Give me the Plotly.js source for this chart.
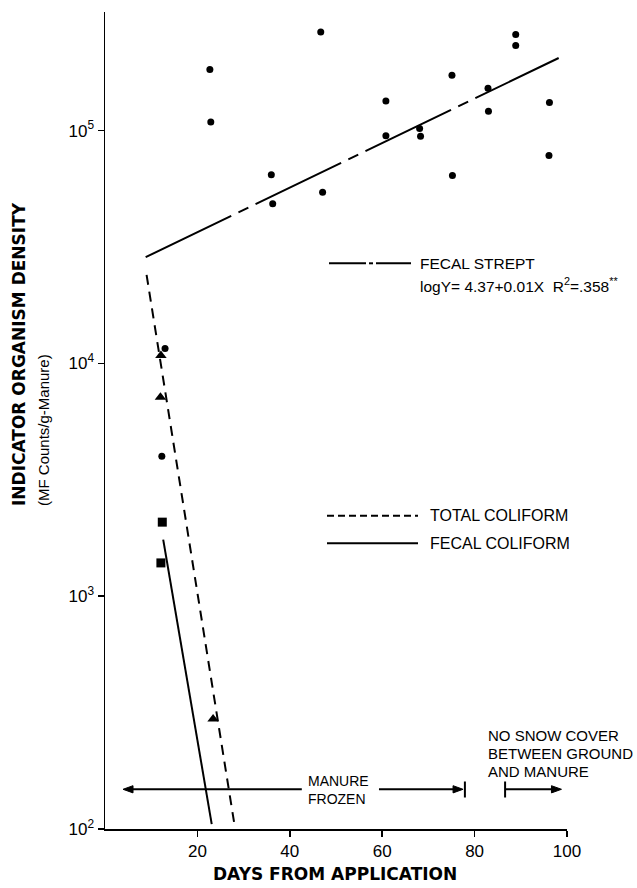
<!DOCTYPE html>
<html>
<head>
<meta charset="utf-8">
<script src="https://cdn.plot.ly/plotly-3.0.1.min.js"></script>
<style>html,body{margin:0;padding:0;background:#fff;}#chart{width:637px;height:888px;}</style>
</head>
<body>
<div id="chart"></div>
<script>
// ---- data ----
const fsDays    = [22.7, 22.9, 36.0, 36.3, 46.7, 47.1, 60.8, 60.8, 68.1, 68.3, 75.1, 75.2, 82.9, 83.0, 88.9, 88.9, 96.2, 96.1, 12.3, 13.0];
const fsDensity = [183000, 109000, 64600, 48500, 265000, 54300, 134000, 95000, 102000, 94600, 173000, 64100, 152000, 121000, 259000, 232000, 132000, 78200, 3990, 11600];
const tcDays    = [12.0, 12.1, 23.4];
const tcDensity = [7150, 10800, 297];
const fcDays    = [12.4, 12.1];
const fcDensity = [2080, 1390];
const fsFitDays = [8.8, 98.2];
const fsFitDensity = [28600, 205000];
const tcFitDays = [9.0, 28.0];
const tcFitDensity = [24000, 105];
const fcFitDays = [12.6, 23.1];
const fcFitDensity = [1750, 105];
const frozenDays = [3.9, 42.6, 59.3, 77.9];
const noSnowDays = [86.6, 98.8];
const xTickVals = [20, 40, 60, 80, 100];
const yTickVals = [100, 1000, 10000, 100000];
const yTickText = ['10<sup>2</sup>', '10<sup>3</sup>', '10<sup>4</sup>', '10<sup>5</sup>'];

// ---- layout geometry ----
const W = 637, H = 888, L = 105, R = 70, T = 12, B = 59;
const plotW = W - L - R, plotH = H - T - B;
const pxX = px => (px - L) / plotW;
const pxY = py => (H - B - py) / plotH;
const FONT = 'Liberation Sans, Arial, Helvetica, sans-serif';
const TFONT = 'DejaVu Sans, Liberation Sans, Arial, sans-serif';
const black = '#000';

const traces = [
  {x: fsFitDays, y: fsFitDensity, mode: 'lines', line: {color: black, width: 2, dash: '95px,8px,11px,8px'}, hoverinfo: 'skip'},
  {x: tcFitDays, y: tcFitDensity, mode: 'lines', line: {color: black, width: 2, dash: '10px,7px'}, hoverinfo: 'skip'},
  {x: fcFitDays, y: fcFitDensity, mode: 'lines', line: {color: black, width: 2}, hoverinfo: 'skip'},
  {x: fsDays, y: fsDensity, mode: 'markers', marker: {symbol: 'circle', size: 7, color: black}},
  {x: tcDays, y: tcDensity, mode: 'markers', marker: {symbol: 'triangle-up', size: 10, color: black}},
  {x: fcDays, y: fcDensity, mode: 'markers', marker: {symbol: 'square', size: 9, color: black}}
];

const shapes = [];
const ann = [];
function seg(x0, y0, x1, y1, dash) {
  shapes.push({type: 'line', xref: 'paper', yref: 'paper', x0: pxX(x0), y0: pxY(y0), x1: pxX(x1), y1: pxY(y1),
    line: {color: black, width: 2, dash: dash || 'solid'}});
}
function text(px, py, t, size, opts, family) {
  ann.push(Object.assign({xref: 'paper', yref: 'paper', x: pxX(px), y: pxY(py), text: t, showarrow: false,
    xanchor: 'left', yanchor: 'middle', align: 'left', font: {family: family || FONT, size: size, color: black}}, opts || {}));
}

// legend samples
seg(329, 263.3, 366, 263.3);
seg(369, 263.3, 373, 263.3);
seg(376, 263.3, 411, 263.3);
text(418, 263.3, 'FECAL STREPT', 15.5);
text(418, 285, 'logY= 4.37+0.01X  R<sup>2</sup>=.358<sup>**</sup>', 15.5);
seg(327, 515.7, 418, 515.7, '7px,4px');
text(428, 515.7, 'TOTAL COLIFORM', 16);
seg(327, 543.3, 418, 543.3);
text(428, 543.3, 'FECAL COLIFORM', 16);

// arrows (x in days, y in paper)
const ay = pxY(789.3), ah = 3.6 / plotH, al = 10 / plotW * 100;
function hline(d0, d1) {
  shapes.push({type: 'line', xref: 'x', yref: 'paper', x0: d0, x1: d1, y0: ay, y1: ay, line: {color: black, width: 2}});
}
function vbar(d) {
  shapes.push({type: 'line', xref: 'x', yref: 'paper', x0: d, x1: d, y0: pxY(797.5), y1: pxY(781.5), line: {color: black, width: 2}});
}
function head(tip, dir) {
  const b = tip - dir * al;
  shapes.push({type: 'path', xref: 'x', yref: 'paper',
    path: `M ${tip},${ay} L ${b},${ay + ah} L ${b},${ay - ah} Z`, fillcolor: black, line: {color: black, width: 1}});
}
hline(frozenDays[0] + al * 0.8, frozenDays[1]);
head(frozenDays[0], -1);
hline(frozenDays[2], frozenDays[3] - al * 0.8);
head(frozenDays[3] - 0.4, 1);
vbar(frozenDays[3]);
vbar(noSnowDays[0]);
hline(noSnowDays[0], noSnowDays[1] - al * 0.8);
head(noSnowDays[1], 1);

text(306, 789.5, 'MANURE<br>FROZEN', 14);
text(486, 735, 'NO SNOW COVER', 15);
text(486, 753, 'BETWEEN GROUND', 15);
text(486, 771, 'AND MANURE', 15);

// axis titles
text(335, 874, '<b>DAYS FROM APPLICATION</b>', 17, {xanchor: 'center'}, TFONT);
text(19, 508, '<b>INDICATOR ORGANISM DENSITY</b>', 17, {textangle: -90, xanchor: 'center', yanchor: 'bottom'}, TFONT);
text(43, 508, '(MF Counts/g-Manure)', 15, {textangle: -90, xanchor: 'center', yanchor: 'bottom'});

const layout = {
  width: W, height: H,
  margin: {l: L, r: R, t: T, b: B, pad: 0},
  paper_bgcolor: '#fff', plot_bgcolor: '#fff',
  showlegend: false,
  font: {family: FONT, color: black},
  xaxis: {range: [0, 100], tickvals: xTickVals, ticks: 'outside', ticklen: 6, tickwidth: 1.5, tickcolor: black,
    showline: true, linecolor: black, linewidth: 1.5, showgrid: false, zeroline: false,
    tickfont: {family: FONT, size: 17, color: black}},
  yaxis: {type: 'log', range: [2, 2 + plotH / 232.8], tickvals: yTickVals, ticktext: yTickText,
    ticks: 'outside', ticklen: 6, tickwidth: 1.5, tickcolor: black,
    showline: true, linecolor: black, linewidth: 1.5, showgrid: false, zeroline: false,
    tickfont: {family: FONT, size: 17, color: black}},
  shapes: shapes,
  annotations: ann
};

Plotly.newPlot('chart', traces, layout, {staticPlot: true, displayModeBar: false});
</script>
</body>
</html>
